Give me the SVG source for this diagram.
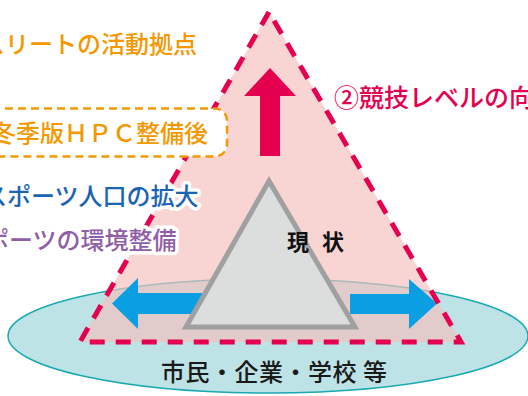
<svg xmlns="http://www.w3.org/2000/svg" width="528" height="396" viewBox="0 0 528 396">
<style>
text{font-family:"Noto Sans CJK JP","Noto Sans",sans-serif;font-size:24px;font-weight:500}
.halo{stroke:#fff;stroke-width:7;stroke-linejoin:round;paint-order:stroke}
.blue{fill:#0a9fe3}
</style>
<rect width="528" height="396" fill="#fff"/>
<g id="base-ellipse">
<ellipse cx="268" cy="336" rx="260" ry="57" fill="#bde3e6" stroke="#1aa9b1" stroke-width="1.5"/>
</g>
<g id="target-triangle">
<polygon points="269,12 80,342 461,342" fill="#f4c0bd" fill-opacity="0.67"/>
</g>
<g id="connectors">
<polygon id="arrow-up" points="270,68 296,96 280,96 280,156 260,156 260,96 244,96" fill="#e5004f"/>
<polygon id="arrow-left" class="blue" points="112,303.5 138,278 138,293 202,293 202,314 138,314 138,329"/>
<polygon id="arrow-right" class="blue" points="437,303.5 409,279 409,294 350,294 350,314 409,314 409,329"/>
</g>
<g id="current">
<polygon points="269,181 186,327 355,327" fill="#dcdddd" stroke="#a0a0a0" stroke-width="5"/>
<text x="287" y="250" letter-spacing="4" fill="#111" style="font-size:22px;font-weight:700">現 状</text>
</g>
<g id="target-outline">
<polygon points="269,12 80,342 461,342" fill="none" stroke="#e5004f" stroke-width="5" stroke-dasharray="15 11"/>
</g>
<g id="label-athlete">
<text x="-43" y="53" fill="#f39800">アスリートの活動拠点</text>
</g>
<g id="label-hpc">
<rect x="-20" y="108.5" width="247" height="48" rx="12" fill="#fff" stroke="#f39800" stroke-width="2.5" stroke-dasharray="8 5"/>
<text x="-8" y="142" fill="#f39800">冬季版ＨＰＣ整備後</text>
</g>
<g id="label-population">
<text class="halo" x="-17" y="205" fill="#1a64b4">スポーツ人口の拡大</text>
</g>
<g id="label-environment">
<text class="halo" x="-39" y="249" fill="#8f5ea8">スポーツの環境整備</text>
</g>
<g id="label-level">
<text x="334" y="107" fill="#e5004f" style="font-size:25px">②競技レベルの向上</text>
</g>
<g id="label-base">
<text x="161" y="381" letter-spacing="0.5" fill="#1a1a1a">市民・企業・学校 等</text>
</g>
</svg>
